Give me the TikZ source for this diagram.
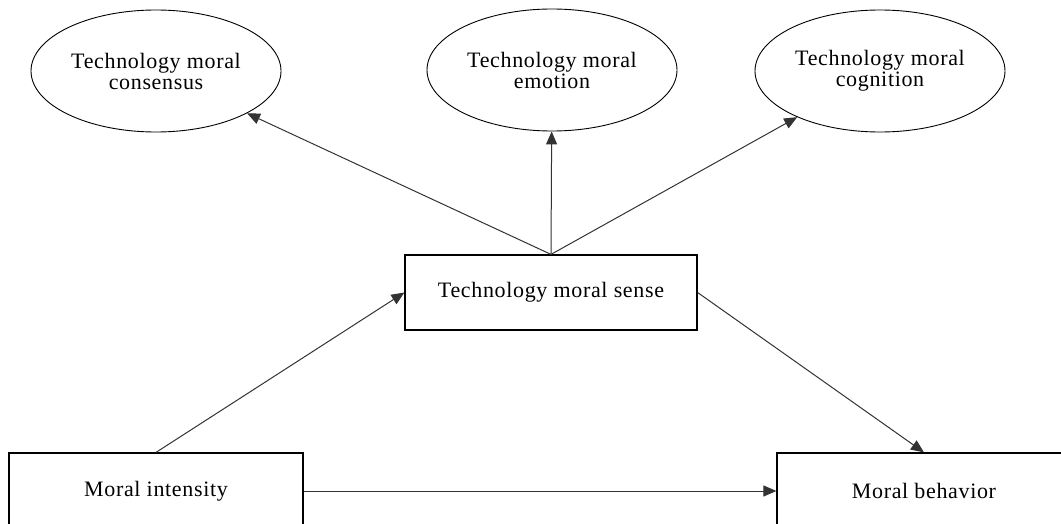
\documentclass[tikz,border=0pt]{standalone}
\usepackage{fontspec}
\setmainfont{Liberation Serif}[LetterSpace=3]
\usetikzlibrary{arrows.meta,shapes.geometric}
\begin{document}
\begin{tikzpicture}[x=1pt,y=-1pt,
  every node/.style={font=\fontsize{22}{21}\selectfont, align=center, inner sep=0pt},
  oval/.style={draw=black, line width=0.9pt, ellipse, minimum width=250pt, minimum height=122pt},
  rbox/.style={draw=black, line width=1.2pt, rectangle, minimum width=294pt, minimum height=76pt},
  arr/.style={draw=black!80, line width=1pt, -{Triangle[length=13pt,width=11pt]}}]
\useasboundingbox (0,0) rectangle (1061,524);
\clip (0,0) rectangle (1061,524);
\node[oval] (e1) at (156,71) {Technology moral\\consensus};
\node[oval] (e2) at (552,70) {Technology moral\\emotion};
\node[oval] (e3) at (880,71) {Technology moral\\cognition};
\node[rbox, minimum width=292pt, minimum height=75pt] (sense) at (551,292.5) {Technology moral sense};
\node[rbox] (intensity) at (156,491) {Moral intensity};
\node[rbox] (behavior) at (924,491) {Moral behavior};
\draw[arr] (sense.north) -- (e1);
\draw[arr] (sense.north) -- (e2);
\draw[arr] (sense.north) -- (e3);
\draw[arr] (intensity.north) -- (sense.west);
\draw[arr] (sense.east) -- (behavior.north);
\draw[arr] (intensity.east) -- (behavior.west);
\end{tikzpicture}
\end{document}
